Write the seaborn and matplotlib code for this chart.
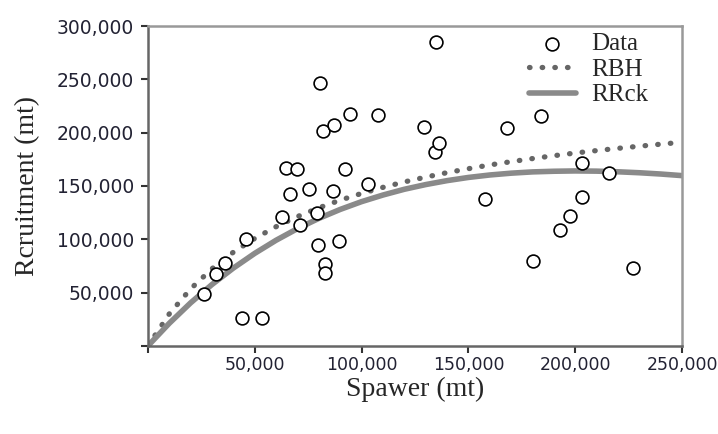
import numpy as np
import pandas as pd
import matplotlib
matplotlib.use('Agg')
import matplotlib.pyplot as plt
import seaborn as sns
from matplotlib.ticker import FuncFormatter, MultipleLocator

# 观测数据 (spawner, recruitment), 单位: 千吨
spawner = [26.4, 31.8, 36.0, 44.0, 53.4, 45.9, 62.6, 64.4, 69.7, 66.5,
           71.3, 75.5, 79.0, 79.7, 83.0, 83.0, 86.4, 89.6, 92.2, 102.8,
           80.7, 81.8, 87.2, 94.6, 107.5, 129.3, 134.4, 136.3, 135.0, 157.8,
           167.9, 184.1, 180.4, 192.9, 197.6, 203.0, 203.0, 216.0, 227.2]
recruit = [48.7, 67.5, 77.5, 26.5, 26.5, 100.0, 120.6, 166.4, 165.6, 142.5,
           113.7, 147.0, 125.0, 94.7, 76.5, 68.0, 145.0, 98.4, 166.0, 151.8,
           247.0, 201.5, 206.8, 217.4, 216.5, 205.0, 181.5, 190.0, 285.0, 137.5,
           204.0, 216.0, 79.7, 108.7, 121.8, 140.0, 172.0, 162.5, 72.8]

# 曲线
curve_s = [0, 10, 20, 30, 40, 50, 60, 70, 80, 90, 100, 110, 120, 130,
           140, 150, 160, 170, 180, 190, 200, 210, 220, 230, 240, 250]
rbh = [0, 30.0, 53.5, 72.4, 87.9, 100.8, 111.8, 121.3, 129.5, 136.7, 143.0,
       148.7, 153.8, 158.3, 162.5, 166.2, 169.7, 172.8, 175.7, 178.4, 180.9,
       183.2, 185.3, 187.3, 189.2, 191.0]
rrck = [0, 21.2, 40.4, 57.6, 73.0, 86.8, 99.1, 110.0, 119.6, 128.0, 135.3,
        141.5, 146.9, 151.3, 155.0, 158.0, 160.3, 162.0, 163.2, 163.8, 164.1,
        163.9, 163.3, 162.4, 161.2, 159.7]

pts = pd.DataFrame({'S': np.array(spawner) * 1000, 'R': np.array(recruit) * 1000})
crv = pd.DataFrame({'S': np.array(curve_s) * 1000,
                    'RBH': np.array(rbh) * 1000,
                    'RRck': np.array(rrck) * 1000})

sns.set_style('ticks')
plt.rcParams['font.family'] = ['DejaVu Sans']

fig = plt.figure(figsize=(7.18, 4.34), dpi=100)
ax = fig.add_axes([0.206, 0.203, 0.744, 0.737])

sns.lineplot(data=crv, x='S', y='RBH', ax=ax, color='#666666', lw=3.8,
             linestyle=(0, (0.1, 2.3)), solid_capstyle='round',
             dash_capstyle='round', label='RBH', zorder=2)
sns.lineplot(data=crv, x='S', y='RRck', ax=ax, color='#8a8a8a', lw=4,
             label='RRck', zorder=2)
sns.scatterplot(data=pts, x='S', y='R', ax=ax, marker='o', s=85,
                facecolor='white', edgecolor='black', linewidth=1.2,
                label='Data', zorder=3)

ax.set_xlim(0, 250000)
ax.set_ylim(0, 300000)
ax.xaxis.set_major_locator(MultipleLocator(50000))
ax.yaxis.set_major_locator(MultipleLocator(50000))
fmt = FuncFormatter(lambda v, p: '' if v == 0 else f'{int(v):,}')
ax.xaxis.set_major_formatter(fmt)
ax.yaxis.set_major_formatter(fmt)
ax.tick_params(axis='both', direction='out', length=5, width=1.5,
               color='#333333', labelcolor='#222233')
ax.tick_params(axis='x', pad=2, labelsize=12.5)
ax.tick_params(axis='y', pad=5, labelsize=13.5)

for side in ['left', 'bottom']:
    ax.spines[side].set_color('#666666')
    ax.spines[side].set_linewidth(1.8)
for side in ['top', 'right']:
    ax.spines[side].set_visible(True)
    ax.spines[side].set_color('#999999')
    ax.spines[side].set_linewidth(1.8)

ax.set_xlabel('Spawer (mt)', family='Liberation Serif', fontsize=20, labelpad=2)
ax.set_ylabel('Rcruitment (mt)', family='Liberation Serif', fontsize=20, labelpad=12)

handles, labels = ax.get_legend_handles_labels()
order = [labels.index(k) for k in ['Data', 'RBH', 'RRck']]
ax.legend([handles[i] for i in order], [labels[i] for i in order],
          loc='upper right', bbox_to_anchor=(0.955, 1.01), frameon=False,
          prop={'family': 'Liberation Serif', 'size': 18},
          handlelength=1.9, handletextpad=0.6, labelspacing=0.12,
          borderaxespad=0)

fig.savefig('out.png', dpi=100)
